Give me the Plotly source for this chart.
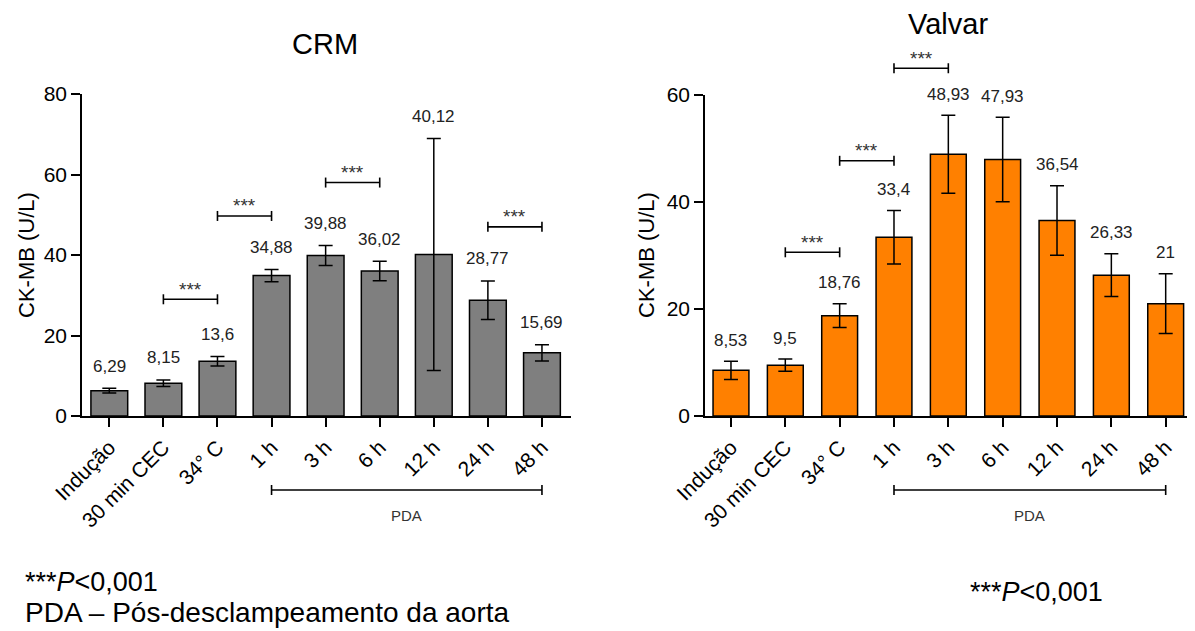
import plotly.graph_objects as go

# ---------------- data ----------------
categories = ["Indução", "30 min CEC", "34° C", "1 h", "3 h", "6 h", "12 h", "24 h", "48 h"]

crm_values = [6.29, 8.15, 13.6, 34.88, 39.88, 36.02, 40.12, 28.77, 15.69]
crm_err = [0.6, 0.8, 1.2, 1.5, 2.5, 2.4, 28.8, 4.8, 2.0]
crm_sig = [(1, 2, 29.0), (2, 3, 49.7), (4, 5, 58.0), (7, 8, 47.0)]

valvar_values = [8.53, 9.5, 18.76, 33.4, 48.93, 47.93, 36.54, 26.33, 21]
valvar_err = [1.7, 1.15, 2.2, 5.0, 7.3, 7.9, 6.5, 4.0, 5.6]
valvar_sig = [(1, 2, 30.6), (2, 3, 47.7), (3, 4, 65.0)]

pda_span = (3, 8)

# ---------------- layout geometry ----------------
# the page body has an 8px margin, so the figure is drawn 8px smaller and offset
OFF = 8
W, H = 1195 - OFF, 631 - OFF
FONT = "Liberation Sans, Arial, sans-serif"


def px(x):
    return (x - OFF) / W


def py(y):
    return 1 - (y - OFF) / H


panels = [
    dict(name="CRM", values=crm_values, err=crm_err, sig=crm_sig, color="#7f7f7f",
         xd=(82, 571), yd=(416, 94), xr=(-0.505, 8.537), ymax=80, dt=20,
         xref="x", yref="y", title_xy=(325, 44), ytitle_x=26, lab_shift=22, width=0.68,
         foot_x=23, foot_y=582),
    dict(name="Valvar", values=valvar_values, err=valvar_err, sig=valvar_sig, color="#ff8000",
         xd=(705, 1194), yd=(416, 95), xr=(-0.478, 8.521), ymax=60, dt=20,
         xref="x2", yref="y2", title_xy=(948, 24), ytitle_x=646, lab_shift=21, width=0.66,
         foot_x=968, foot_y=592),
]

fig = go.Figure()
shapes = []
annotations = []

line_black = dict(color="black", width=1.6)

for i, p in enumerate(panels):
    fig.add_trace(go.Bar(
        x=list(range(len(categories))), y=p["values"], width=p["width"],
        marker=dict(color=p["color"], line=dict(color="black", width=1.5)),
        error_y=dict(type="data", array=p["err"], color="black", thickness=1.5, width=7),
        xaxis=p["xref"], yaxis=p["yref"], showlegend=False, hoverinfo="skip",
    ))
    sfx = "" if i == 0 else "2"
    y0p, y1p = py(p["yd"][0]), py(p["yd"][1])
    fig.layout["xaxis" + sfx] = dict(
        domain=[px(p["xd"][0]), px(p["xd"][1])], range=list(p["xr"]), anchor="y" + sfx,
        tickmode="array", tickvals=list(range(len(categories))), ticktext=categories,
        tickangle=-45, ticks="outside", ticklen=9, tickwidth=1.6, tickcolor="black",
        showline=True, linecolor="black", linewidth=1.6, showgrid=False, zeroline=False,
        tickfont=dict(family=FONT, size=21, color="black"), automargin=False, fixedrange=True,
    )
    fig.layout["yaxis" + sfx] = dict(
        domain=[y0p, y1p], range=[0, p["ymax"]], anchor="x" + sfx,
        tickmode="array", tickvals=list(range(0, p["ymax"] + 1, p["dt"])),
        ticks="outside", ticklen=9, tickwidth=1.6, tickcolor="black",
        showline=True, linecolor="black", linewidth=1.6, showgrid=False, zeroline=False,
        tickfont=dict(family=FONT, size=21, color="black"), automargin=False, fixedrange=True,
    )

    def vy(v, p=p, y0p=y0p, y1p=y1p):
        return y0p + v / p["ymax"] * (y1p - y0p)

    # x-axis little extension to the left of the y-axis
    shapes.append(dict(type="line", xref="paper", yref="paper",
                       x0=px(p["xd"][0] - 8), x1=px(p["xd"][0]), y0=y0p, y1=y0p, line=line_black))

    # value labels
    for k, (v, e) in enumerate(zip(p["values"], p["err"])):
        annotations.append(dict(
            x=k, y=v + e, xref=p["xref"], yref=p["yref"], text=f"{v:g}".replace(".", ","),
            showarrow=False, yanchor="middle", yshift=p["lab_shift"],
            font=dict(family=FONT, size=17, color="#222"),
        ))

    # significance brackets
    for a, b, lvl in p["sig"]:
        yy = vy(lvl)
        cap = 5 / H
        shapes.append(dict(type="line", xref=p["xref"], yref="paper", x0=a, x1=b, y0=yy, y1=yy, line=line_black))
        for xx in (a, b):
            shapes.append(dict(type="line", xref=p["xref"], yref="paper", x0=xx, x1=xx,
                               y0=yy - cap, y1=yy + cap, line=line_black))
        annotations.append(dict(x=(a + b) / 2, y=yy, xref=p["xref"], yref="paper", text="***",
                                showarrow=False, yanchor="middle", yshift=10,
                                font=dict(family=FONT, size=19, color="#333")))

    # PDA bracket
    a, b = pda_span
    yy = py(490)
    cap = 5 / H
    shapes.append(dict(type="line", xref=p["xref"], yref="paper", x0=a, x1=b, y0=yy, y1=yy, line=line_black))
    for xx in (a, b):
        shapes.append(dict(type="line", xref=p["xref"], yref="paper", x0=xx, x1=xx,
                           y0=yy - cap, y1=yy + cap, line=line_black))
    annotations.append(dict(x=(a + b) / 2, y=py(515), xref=p["xref"], yref="paper", text="PDA",
                            showarrow=False, yanchor="middle",
                            font=dict(family=FONT, size=15, color="#333")))

    # titles
    annotations.append(dict(x=px(p["title_xy"][0]), y=py(p["title_xy"][1]), xref="paper", yref="paper",
                            text=p["name"], showarrow=False, xanchor="center", yanchor="middle",
                            borderpad=0, font=dict(family=FONT, size=29, color="black")))
    annotations.append(dict(x=px(p["ytitle_x"]), y=py(255), xref="paper", yref="paper",
                            text="CK-MB (U/L)", textangle=-90, showarrow=False,
                            xanchor="center", yanchor="middle",
                            font=dict(family=FONT, size=22, color="black")))

    # footnote
    annotations.append(dict(x=px(p["foot_x"]), y=py(p["foot_y"]), xref="paper", yref="paper",
                            text="***<i>P</i>&lt;0,001",
                            showarrow=False, xanchor="left", yanchor="middle",
                            font=dict(family=FONT, size=27, color="black")))

annotations.append(dict(x=px(23), y=py(612), xref="paper", yref="paper",
                        text="PDA – Pós-desclampeamento da aorta", showarrow=False,
                        xanchor="left", yanchor="middle",
                        font=dict(family=FONT, size=28, color="black")))

fig.update_layout(
    width=W, height=H, margin=dict(l=0, r=0, t=0, b=0),
    paper_bgcolor="white", plot_bgcolor="white",
    shapes=shapes, annotations=annotations, showlegend=False,
    font=dict(family=FONT, color="black"),
)

fig.write_html("out.html")
